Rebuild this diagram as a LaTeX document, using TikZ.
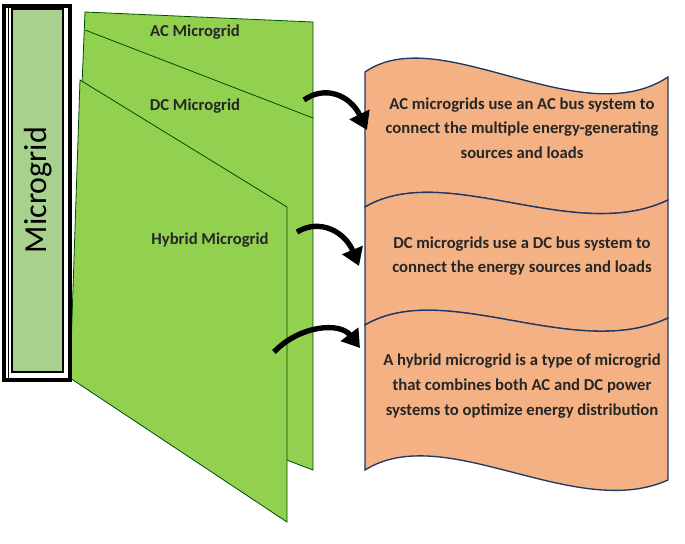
\documentclass[tikz,border=0pt]{standalone}
\usepackage{fontspec}
\setmainfont{Carlito}
\usetikzlibrary{arrows.meta}
\definecolor{pg}{HTML}{92D050}
\definecolor{spine}{HTML}{A9D18E}
\definecolor{org}{HTML}{F4B183}
\definecolor{edge}{HTML}{1F3864}
\begin{document}
\begin{tikzpicture}[x=0.75pt,y=-0.75pt,
  page/.style={fill=pg,draw=black!70!green,line width=0.6pt},
  box/.style={fill=org,draw=edge,line width=1pt},
  lbl/.style={font=\bfseries\fontsize{12.5}{14}\selectfont,text=black!85},
  txt/.style={font=\bfseries\fontsize{12.5}{18.5}\selectfont,align=center,text=black!85},
  arr/.style={line width=4pt,-{Triangle[length=13pt,width=16pt]}}]
\useasboundingbox (0,0) rectangle (685,543);
% pages
\path[page] (85,12) -- (313,22) -- (313,470) -- (70,378) -- cycle;
\draw[black!70!green,line width=0.6pt] (85,30) -- (313,118);
\path[page] (80,80) -- (287,207) -- (287,522) -- (70,378) -- cycle;
% spine
\draw[line width=2.5pt] (4,6) rectangle (70,380);
\draw[fill=spine,line width=1pt] (12,9) rectangle (63,372);
\draw[line width=0.6pt] (8,8) -- (8,378);
\node[rotate=90,font=\fontsize{24}{28}\selectfont] (mg) at (38,190) {Microgrid};
% labels
\node[lbl] (ac) at (195,32) {AC Microgrid};
\node[lbl] (dc) at (195,106) {DC Microgrid};
\node[lbl] (hy) at (210,240) {Hybrid Microgrid};
% boxes
\path[box] (365,72) .. controls (440,20) and (580,135) .. (668,77) -- (668,200)
  .. controls (575,245) and (445,160) .. (365,207) -- cycle;
\path[box] (365,207) .. controls (445,160) and (575,245) .. (668,200) -- (668,318)
  .. controls (575,362) and (445,278) .. (365,325) -- cycle;
\path[box] (365,325) .. controls (445,278) and (575,362) .. (668,318) -- (668,480)
  .. controls (575,522) and (445,420) .. (365,470) -- cycle;
\node[txt] (t1) at (522,128) {AC microgrids use an AC bus system to\\connect the multiple energy-generating\\sources and loads};
\node[txt] (t2) at (522,256) {DC microgrids use a DC bus system to\\connect the energy sources and loads};
\node[txt] (t3) at (522,386) {A hybrid microgrid is a type of microgrid\\that combines both AC and DC power\\systems to optimize energy distribution};
% arrows
\coordinate (a1s) at (304,100); \coordinate (a1e) at (367,130);
\coordinate (a2s) at (297,232); \coordinate (a2e) at (359,266);
\coordinate (a3s) at (274,352); \coordinate (a3e) at (360,348);
\draw[arr] (a1s) .. controls (325,85) and (350,95) .. (a1e);
\draw[arr] (a2s) .. controls (320,218) and (345,232) .. (a2e);
\draw[arr] (a3s) .. controls (300,325) and (340,322) .. (a3e);
\end{tikzpicture}
\end{document}
